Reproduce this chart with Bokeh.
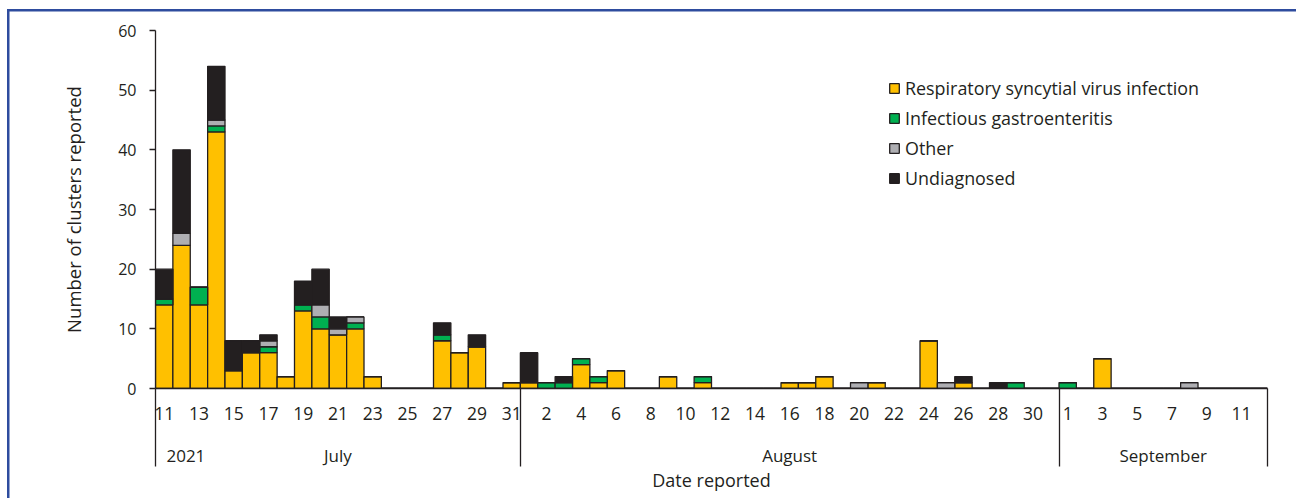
import numpy as np
import pandas as pd
from bokeh.plotting import figure
from bokeh.models import ColumnDataSource, Range1d, FixedTicker, LinearAxis
from bokeh.embed import file_html
from bokeh.resources import INLINE

# ---------------- data ----------------
dates = pd.date_range("2021-07-11", "2021-09-12", freq="D")  # 64 reporting days

rsv = [14, 24, 14, 43, 3, 6, 6, 2, 13, 10, 9, 10, 2, 0, 0, 0, 8, 6, 7, 0, 1,
       1, 0, 0, 4, 1, 3, 0, 0, 2, 0, 1, 0, 0, 0, 0, 1, 1, 2, 0, 0, 1, 0, 0, 8, 0, 1, 0, 0, 0, 0, 0,
       0, 0, 5, 0, 0, 0, 0, 0, 0, 0, 0, 0]
gastro = [1, 0, 3, 1, 0, 0, 1, 0, 1, 2, 0, 1, 0, 0, 0, 0, 1, 0, 0, 0, 0,
          0, 1, 1, 1, 1, 0, 0, 0, 0, 0, 1, 0, 0, 0, 0, 0, 0, 0, 0, 0, 0, 0, 0, 0, 0, 0, 0, 0, 1, 0, 0,
          1, 0, 0, 0, 0, 0, 0, 0, 0, 0, 0, 0]
other = [0, 2, 0, 1, 0, 0, 1, 0, 0, 2, 1, 1, 0, 0, 0, 0, 0, 0, 0, 0, 0,
         0, 0, 0, 0, 0, 0, 0, 0, 0, 0, 0, 0, 0, 0, 0, 0, 0, 0, 0, 1, 0, 0, 0, 0, 1, 0, 0, 0, 0, 0, 0,
         0, 0, 0, 0, 0, 0, 0, 1, 0, 0, 0, 0]
undiag = [5, 14, 0, 9, 5, 2, 1, 0, 4, 6, 2, 0, 0, 0, 0, 0, 2, 0, 2, 0, 0,
          5, 0, 1, 0, 0, 0, 0, 0, 0, 0, 0, 0, 0, 0, 0, 0, 0, 0, 0, 0, 0, 0, 0, 0, 0, 1, 0, 1, 0, 0, 0,
          0, 0, 0, 0, 0, 0, 0, 0, 0, 0, 0, 0]

series_keys = ["rsv", "gastro", "other", "undiag"]
series_names = ["Respiratory syncytial virus infection", "Infectious gastroenteritis",
                "Other", "Undiagnosed"]
series_colors = ["#FFC000", "#00B050", "#AEAEB2", "#231F20"]

tick_labels = ["11", "13", "15", "17", "19", "21", "23", "25", "27", "29", "31",
               "2", "4", "6", "8", "10", "12", "14", "16", "18", "20", "22", "24", "26", "28", "30",
               "1", "3", "5", "7", "9", "11"]
year_label = "2021"
month_labels = ["July", "August", "September"]
y_ticks = [0, 10, 20, 30, 40, 50, 60]

# ---------------- style ----------------
FONT = "Open Sans"
INK = "#231F20"
BLUE = "#2E4C9E"

n = len(dates)
x = np.arange(n) + 0.5
src = ColumnDataSource(dict(x=x, rsv=rsv, gastro=gastro, other=other, undiag=undiag))

# month boundaries (day indices) and centres
bounds = [0] + [i for i, d in enumerate(dates) if d.day == 1] + [n]
month_centres = [(bounds[i] + bounds[i + 1]) / 2 for i in range(len(bounds) - 1)]

p = figure(width=1296, height=498, x_range=Range1d(0, n), y_range=Range1d(0, 60),
           output_backend="svg", toolbar_location=None, x_axis_location=None,
           min_border_left=155, min_border_right=29, min_border_top=30, min_border_bottom=110)
p.grid.visible = False
p.outline_line_color = None
p.background_fill_color = "white"
p.border_fill_color = None
# outer frame of the figure: blue rule on the left and top edges
p.styles = {"box-shadow": f"inset 7px 9px 0 0 white, inset 9.5px 11.5px 0 0 {BLUE}"}

p.vbar_stack(series_keys, x="x", width=1.0, source=src, fill_color=series_colors,
             line_color=INK, line_width=1.3, legend_label=series_names)

# y axis
yax = p.yaxis[0]
yax.ticker = FixedTicker(ticks=y_ticks)
yax.minor_tick_line_color = None
yax.major_tick_in = 0
yax.major_tick_out = 6
yax.major_tick_line_color = INK
yax.major_tick_line_width = 1.3
yax.axis_line_color = INK
yax.axis_line_width = 1.3
yax.major_label_standoff = 13
yax.major_label_text_font = FONT
yax.major_label_text_font_size = "16px"
yax.major_label_text_color = INK
yax.axis_label = "Number of clusters reported"
yax.axis_label_text_font = FONT
yax.axis_label_text_font_size = "18.5px"
yax.axis_label_text_font_style = "normal"
yax.axis_label_text_color = INK
yax.axis_label_standoff = 29

# x axis 1: day numbers + month separators (minor ticks)
ax1 = LinearAxis(
    ticker=FixedTicker(ticks=[float(v) for v in x[::2]], minor_ticks=[float(b) for b in bounds]),
    major_label_overrides={float(v): lab for v, lab in zip(x[::2], tick_labels)},
)
ax1.axis_line_color = INK
ax1.axis_line_width = 1.3
ax1.major_tick_out = 0
ax1.major_tick_in = 0
ax1.major_tick_line_color = None
ax1.minor_tick_in = 0
ax1.minor_tick_out = 78
ax1.minor_tick_line_color = INK
ax1.minor_tick_line_width = 1.3
ax1.major_label_standoff = -60
ax1.major_label_text_font = FONT
ax1.major_label_text_font_size = "17.5px"
ax1.major_label_text_color = INK
p.add_layout(ax1, "below")

# x axis 2: year + month names, axis title
m_ticks = [1.75] + month_centres
m_labels = [year_label] + month_labels
ax2 = LinearAxis(ticker=FixedTicker(ticks=m_ticks, minor_ticks=[]),
                 major_label_overrides={float(v): lab for v, lab in zip(m_ticks, m_labels)})
ax2.axis_line_color = None
ax2.major_tick_line_color = None
ax2.minor_tick_line_color = None
ax2.major_tick_out = 0
ax2.major_tick_in = 0
ax2.major_label_standoff = 21
ax2.major_label_text_font = FONT
ax2.major_label_text_font_size = "17px"
ax2.major_label_text_color = INK
ax2.axis_label = "Date reported"
ax2.axis_label_text_font = FONT
ax2.axis_label_text_font_size = "18px"
ax2.axis_label_text_font_style = "normal"
ax2.axis_label_text_color = INK
ax2.axis_label_standoff = -2
p.add_layout(ax2, "below")

# legend
lg = p.legend[0]
lg.location = (733, 198)
lg.glyph_width = 12
lg.glyph_height = 12
lg.label_height = 24
lg.spacing = 6
lg.padding = 0
lg.margin = 0
lg.border_line_color = None
lg.background_fill_alpha = 0
lg.label_text_font = FONT
lg.label_text_font_size = "17.9px"
lg.label_text_color = INK
lg.label_standoff = 5

open("out.html", "w").write(file_html(p, INLINE))
